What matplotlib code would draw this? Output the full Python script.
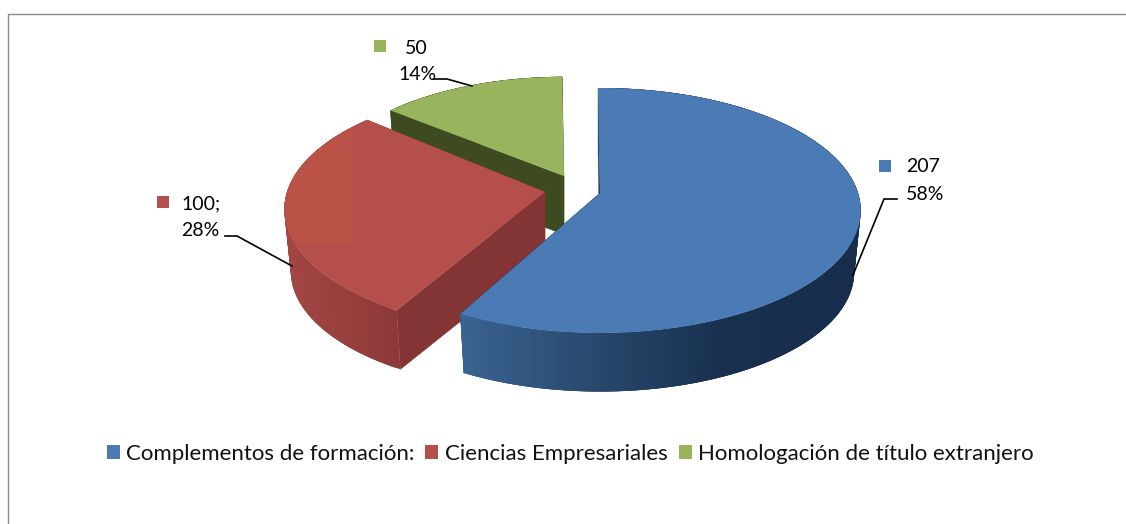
import numpy as np
import matplotlib
matplotlib.use("Agg")
import matplotlib.pyplot as plt
from matplotlib.collections import PolyCollection
from matplotlib.colors import to_rgb
from matplotlib.patches import Rectangle, Wedge
from matplotlib.transforms import Transform

# ---- data ----
categories = ["Complementos de formación:", "Ciencias Empresariales",
              "Homologación de título extranjero"]
values = [207, 100, 50]
value_labels = ["207", "100;", "50"]
percent_labels = ["58%", "28%", "14%"]

# ---- style / layout ----
plt.rcParams["font.family"] = ["Lato", "DejaVu Sans"]
W, H = 1126, 524
top_colors = ["#4B7BB5", "#B54F4C", "#98B45C"]
cut_colors = ["#1B3555", "#823534", "#3E4A1F"]
side_stops = [([463, 600, 730, 860], ["#3A6391", "#28486C", "#182F4E", "#172D4B"]),
              ([285, 400], ["#A24644", "#8D3938"]),
              ([380, 570], ["#3E4A1F", "#3E4A1F"])]
# pie-plane position of each exploded slice: apex x, apex y, scale, rotation (deg)
placement = [(600, 193, 1.0, 0.0), (545, 192, 1.0, -2.0), (564, 176, 0.945, 0.0)]
RX, RY, PERSP = 258.0, 120.0, 0.143
DEPTH, SHRINK = 62.0, 0.975
START = 90.5


class Projection(Transform):
    """Maps the unit pie disc to pixels with a tilted perspective."""
    input_dims = output_dims = 2

    def __init__(self, cx, cy, scale, rot=0.0, drop=0.0):
        super().__init__()
        self.p = (cx, cy, scale, np.radians(rot), drop)

    def transform_non_affine(self, xy):
        cx, cy, s, r, drop = self.p
        xy = np.asarray(xy, dtype=float)
        u = xy[:, 0] * np.cos(r) - xy[:, 1] * np.sin(r)
        v = xy[:, 0] * np.sin(r) + xy[:, 1] * np.cos(r)
        w = 1 + PERSP * v
        return np.column_stack((cx + s * RX * u / w, cy - s * RY * v / w + drop))


def lerp_color(x, stops):
    xs, cols = stops
    rgb = np.array([to_rgb(c) for c in cols])
    return tuple(np.interp(x, xs, rgb[:, i]) for i in range(3))


fig = plt.figure(figsize=(W / 100, H / 100), dpi=100, facecolor="white")
ax = fig.add_axes([0, 0, 1, 1])
wedges, _ = ax.pie(values, colors=top_colors, startangle=START, counterclock=False,
                   radius=1.0, center=(0, 0), frame=False)
ax.set_aspect("auto")
ax.set_xlim(0, W)
ax.set_ylim(H, 0)
ax.axis("off")

fractions = np.array(values, dtype=float) / np.sum(values)
edges = START - 360 * np.concatenate(([0], np.cumsum(fractions)))

# back to front: green, red, blue
for i in [2, 1, 0]:
    cx, cy, s, rot = placement[i]
    top = Projection(cx, cy, s, rot)
    low = Projection(cx, cy, s * SHRINK, rot, DEPTH * s)
    a0, a1 = np.radians(edges[i]), np.radians(edges[i + 1])

    # straight cut faces
    for a in (a0, a1):
        pts = np.array([[0, 0], [np.cos(a), np.sin(a)]])
        poly = np.vstack((top.transform(pts), low.transform(pts[::-1])))
        ax.fill(poly[:, 0], poly[:, 1], color=cut_colors[i], lw=0.3, zorder=2 * (3 - i))

    # curved outer wall: overlapping strips painted in order, no seams
    th = np.linspace(a0, a1, int(abs(edges[i + 1] - edges[i])) + 2)
    ring = np.column_stack((np.cos(th), np.sin(th)))
    t_pts, l_pts = top.transform(ring), low.transform(ring)
    polys, cols = [], []
    for j in range(len(th) - 1):
        k = min(j + 3, len(th) - 1)
        polys.append(np.vstack((t_pts[j:k + 1], l_pts[j:k + 1][::-1])))
        cols.append(lerp_color(t_pts[j, 0], side_stops[i]))
    ax.add_collection(PolyCollection(polys, facecolors=cols, edgecolors="none",
                                     linewidths=0, zorder=2 * (3 - i) + 0.5))

    # top face
    wedges[i].set_transform(top + ax.transData)
    wedges[i].set_zorder(2 * (3 - i) + 1)
    wedges[i].set_linewidth(0)
    wedges[i].set_clip_on(False)

# lighter reflection on the red slice
cx, cy, s, rot = placement[1]
sheen = Wedge((0, 0), 1.0, edges[2], edges[1], facecolor="#BB5248", linewidth=0,
              transform=Projection(cx, cy, s, rot) + ax.transData, zorder=5.5)
ax.add_patch(sheen)
sheen.set_clip_path(Rectangle((270, 100), 82, 143, transform=ax.transData))

# frame
ax.plot([8, 8, W], [H, 14, 14], color="#8C8C8C", lw=1.0, zorder=1, clip_on=False)

# data labels
label_fs = 14
text_pos = [((906, 167), (906, 194)), ((181, 204), (181, 231)), ((405, 48), (398, 75))]
key_pos = [(879, 160), (157, 196), (374, 40)]
leaders = [([853, 884, 897], [275, 199, 199]),
           ([292, 237, 225], [266, 236, 236]),
           ([472, 447, 434], [86, 79, 79])]
for i in range(3):
    ax.text(*text_pos[i][0], value_labels[i], fontsize=label_fs, va="center", ha="left",
            color="black", zorder=10)
    ax.text(*text_pos[i][1], percent_labels[i], fontsize=label_fs, va="center", ha="left",
            color="black", zorder=10)
    ax.add_patch(Rectangle(key_pos[i], 12, 12, facecolor=top_colors[i], linewidth=0, zorder=10))
    ax.plot(*leaders[i], color="black", lw=1.2, zorder=10, solid_joinstyle="miter")

# legend
leg_fs = 16
leg = ax.legend(wedges, categories, loc="center", ncol=3, frameon=False,
                bbox_to_anchor=(570, 453.5), bbox_transform=ax.transData,
                fontsize=leg_fs, handlelength=0.59, handleheight=0.59,
                handletextpad=0.28, columnspacing=0.5, borderpad=0, labelspacing=0)
for t in leg.get_texts():
    t.set_color("#111111")

fig.savefig("out.png", dpi=100, facecolor="white")
